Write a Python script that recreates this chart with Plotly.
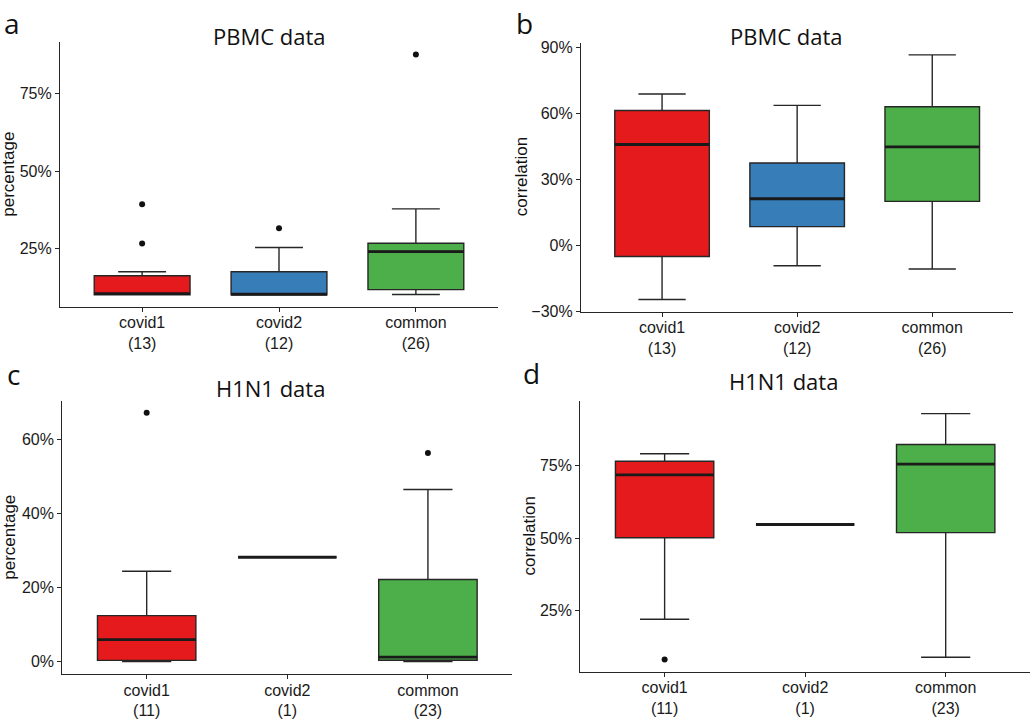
import plotly.graph_objects as go

# ---------------- data ----------------
categories = ["covid1", "covid2", "common"]
counts_pbmc = [13, 12, 26]
counts_h1n1 = [11, 1, 23]
colors = ["#E41A1C", "#377EB8", "#4DAF4A"]

# panel a: PBMC percentage
a_q1 = [10.0, 10.0, 11.7]
a_med = [10.4, 10.2, 24.0]
a_q3 = [16.2, 17.5, 26.7]
a_lo = [10.0, 10.0, 10.1]
a_hi = [17.5, 25.3, 37.8]
a_out = [[26.6, 39.3], [31.5], [87.7]]

# panel b: PBMC correlation
b_q1 = [-5.1, 8.5, 20.0]
b_med = [45.9, 21.2, 44.8]
b_q3 = [61.4, 37.5, 63.1]
b_lo = [-24.7, -9.3, -10.8]
b_hi = [68.9, 63.7, 86.7]
b_out = [[], [], []]

# panel c: H1N1 percentage
c_q1 = [0.3, 28.2, 0.35]
c_med = [5.9, 28.2, 1.2]
c_q3 = [12.4, 28.2, 22.2]
c_lo = [0.0, 28.2, 0.0]
c_hi = [24.4, 28.2, 46.5]
c_out = [[67.3], [], [56.4]]

# panel d: H1N1 correlation
d_q1 = [50.1, 54.7, 51.9]
d_med = [71.9, 54.7, 75.6]
d_q3 = [76.6, 54.7, 82.4]
d_lo = [21.9, 54.7, 8.75]
d_hi = [79.2, 54.7, 93.1]
d_out = [[8.0], [], []]

positions = [1, 2, 3]
BOX_W = 0.7
LINE_C = "#262626"
TICK_FONT = dict(family="Liberation Sans, Arial, sans-serif", size=16, color="#1a1a1a")

panels = [
    dict(q1=a_q1, med=a_med, q3=a_q3, lo=a_lo, hi=a_hi, out=a_out, counts=counts_pbmc,
         xa="x", ya="y", xdom=[60/1035, 498/1035], ydom=[1-308.7/725, 1-40.0/725],
         yrange=[6.08, 91.6], ticks=[25, 50, 75], ytitle="percentage",
         title="PBMC data", letter="a",
         title_xy=(269.7, 33.5), letter_xy=(12, 0), ytitle_x=9),
    dict(q1=b_q1, med=b_med, q3=b_q3, lo=b_lo, hi=b_hi, out=b_out, counts=counts_pbmc,
         xa="x2", ya="y2", xdom=[581/1035, 1013.3/1035], ydom=[1-313.6/725, 1-40.2/725],
         yrange=[-30.3, 92.3], ticks=[-30, 0, 30, 60, 90], ytitle="correlation",
         title="PBMC data", letter="b",
         title_xy=(786, 33.5), letter_xy=(524, 0), ytitle_x=521),
    dict(q1=c_q1, med=c_med, q3=c_q3, lo=c_lo, hi=c_hi, out=c_out, counts=counts_h1n1,
         xa="x3", ya="y3", xdom=[62.3/1035, 512.3/1035], ydom=[1-681.7/725, 1-404.3/725],
         yrange=[-3.47, 70.4], ticks=[0, 20, 40, 60], ytitle="percentage",
         title="H1N1 data", letter="c",
         title_xy=(270, 391), letter_xy=(13, 356), ytitle_x=10),
    dict(q1=d_q1, med=d_med, q3=d_q3, lo=d_lo, hi=d_hi, out=d_out, counts=counts_h1n1,
         xa="x4", ya="y4", xdom=[580.3/1035, 1030/1035], ydom=[1-679/725, 1-404.3/725],
         yrange=[3.74, 97.4], ticks=[25, 50, 75], ytitle="correlation",
         title="H1N1 data", letter="d",
         title_xy=(783, 383.5), letter_xy=(531, 355), ytitle_x=529),
]

fig = go.Figure()
annotations = []
layout_axes = {}

for idx, p in enumerate(panels):
    # boxes
    for i in range(3):
        fig.add_trace(go.Box(
            x=[positions[i]], q1=[p["q1"][i]], median=[p["med"][i]], q3=[p["q3"][i]],
            lowerfence=[p["lo"][i]], upperfence=[p["hi"][i]],
            width=BOX_W, fillcolor=colors[i],
            line=dict(color=LINE_C, width=1.4),
            boxpoints=False, hoverinfo="skip",
            xaxis=p["xa"], yaxis=p["ya"], showlegend=False,
        ))
    # thick median lines
    mx, my = [], []
    for i in range(3):
        mx += [positions[i] - BOX_W / 2, positions[i] + BOX_W / 2, None]
        my += [p["med"][i], p["med"][i], None]
    fig.add_trace(go.Scatter(x=mx, y=my, mode="lines",
                             line=dict(color="#1a1a1a", width=2.8),
                             xaxis=p["xa"], yaxis=p["ya"], showlegend=False,
                             hoverinfo="skip"))
    # outliers
    ox, oy = [], []
    for i in range(3):
        for v in p["out"][i]:
            ox.append(positions[i])
            oy.append(v)
    if ox:
        fig.add_trace(go.Scatter(x=ox, y=oy, mode="markers",
                                 marker=dict(color="#111111", size=6),
                                 xaxis=p["xa"], yaxis=p["ya"], showlegend=False,
                                 hoverinfo="skip"))

    xkey = "xaxis" if idx == 0 else f"xaxis{idx+1}"
    ykey = "yaxis" if idx == 0 else f"yaxis{idx+1}"
    layout_axes[xkey] = dict(
        domain=p["xdom"], range=[0.4, 3.6], anchor=p["ya"],
        tickmode="array", tickvals=positions,
        ticktext=[f"{c}<br>({n})" for c, n in zip(categories, p["counts"])],
        showline=True, linecolor=LINE_C, linewidth=1.2,
        ticks="outside", ticklen=4, tickcolor=LINE_C, tickwidth=1,
        ticklabelstandoff=-3,
        showgrid=False, zeroline=False,
        tickfont=TICK_FONT,
    )
    layout_axes[ykey] = dict(
        domain=p["ydom"], range=p["yrange"], anchor=p["xa"],
        tickmode="array", tickvals=p["ticks"],
        ticktext=[(f"\u2212{abs(t)}%" if t < 0 else f"{t}%") for t in p["ticks"]],
        showline=True, linecolor=LINE_C, linewidth=1.2,
        ticks="outside", ticklen=4, tickcolor=LINE_C, tickwidth=1,
        showgrid=False, zeroline=False,
        tickfont=TICK_FONT,
    )
    # titles, letters, axis titles
    ycenter = (1 - p["ydom"][1]) * 725 / 2 + (1 - p["ydom"][0]) * 725 / 2
    annotations += [
        dict(text=p["title"], x=p["title_xy"][0] / 1035, y=1 - p["title_xy"][1] / 725,
             xref="paper", yref="paper", showarrow=False, xanchor="center", yanchor="middle",
             font=dict(family="Open Sans", size=22, color="#111111")),
        dict(text=p["letter"], x=p["letter_xy"][0] / 1035, y=1 - p["letter_xy"][1] / 725,
             xref="paper", yref="paper", showarrow=False, xanchor="center", yanchor="top",
             borderpad=0,
             font=dict(family="Open Sans", size=28, color="#111111")),
        dict(text=p["ytitle"], x=p["ytitle_x"] / 1035, y=1 - ycenter / 725,
             xref="paper", yref="paper", showarrow=False, xanchor="center", yanchor="middle",
             textangle=-90,
             font=dict(family="Liberation Sans, Arial, sans-serif", size=17, color="#111111")),
    ]

fig.update_layout(
    width=1035, height=725,
    margin=dict(l=0, r=0, t=0, b=0),
    paper_bgcolor="white", plot_bgcolor="white",
    showlegend=False,
    annotations=annotations,
    **layout_axes,
)

# remove the default page margin so the figure sits at the window's top-left corner
fig.write_html("out.html",
               config={"displayModeBar": False},
               post_script="document.body.style.margin='0';document.body.style.overflow='hidden';")
